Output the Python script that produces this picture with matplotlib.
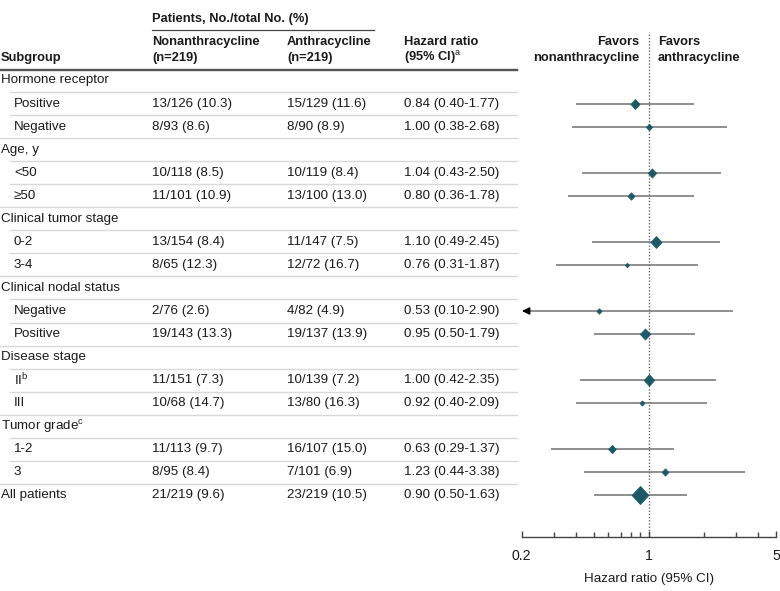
import numpy as np
import matplotlib
matplotlib.use('Agg')
import matplotlib.pyplot as plt
from matplotlib.path import Path
from matplotlib.ticker import FixedLocator, NullFormatter

plt.rcParams['font.family'] = ['Liberation Sans', 'DejaVu Sans']
plt.rcParams['mathtext.fontset'] = 'custom'
plt.rcParams['mathtext.rm'] = 'Liberation Sans'
plt.rcParams['mathtext.bf'] = 'Liberation Sans:bold'

# ---- data ----
group_names = ['Hormone receptor', 'Age, y', 'Clinical tumor stage',
               'Clinical nodal status', 'Disease stage', r'Tumor grade$^{\mathrm{c}}$']
sub_labels = [['Positive', 'Negative'], ['<50', '\u226550'], ['0-2', '3-4'],
              ['Negative', 'Positive'], [r'II$^{\mathrm{b}}$', 'III'], ['1-2', '3']]
total_label = 'All patients'

non_events = [13, 8, 10, 11, 13, 8, 2, 19, 11, 10, 11, 8, 21]
non_total = [126, 93, 118, 101, 154, 65, 76, 143, 151, 68, 113, 95, 219]
non_pct = [10.3, 8.6, 8.5, 10.9, 8.4, 12.3, 2.6, 13.3, 7.3, 14.7, 9.7, 8.4, 9.6]
ant_events = [15, 8, 10, 13, 11, 12, 4, 19, 10, 13, 16, 7, 23]
ant_total = [129, 90, 119, 100, 147, 72, 82, 137, 139, 80, 107, 101, 219]
ant_pct = [11.6, 8.9, 8.4, 13.0, 7.5, 16.7, 4.9, 13.9, 7.2, 16.3, 15.0, 6.9, 10.5]
hr = [0.84, 1.00, 1.04, 0.80, 1.10, 0.76, 0.53, 0.95, 1.00, 0.92, 0.63, 1.23, 0.90]
lo = [0.40, 0.38, 0.43, 0.36, 0.49, 0.31, 0.10, 0.50, 0.42, 0.40, 0.29, 0.44, 0.50]
hi = [1.77, 2.68, 2.50, 1.78, 2.45, 1.87, 2.90, 1.79, 2.35, 2.09, 1.37, 3.38, 1.63]

xticks_major = [0.2, 1, 5]
xticks_minor = [0.3, 0.4, 0.5, 0.6, 0.7, 0.8, 0.9, 2, 3, 4]

# ---- layout (pixel units) ----
W, H = 780, 591
row0, dy = 80.5, 23.05
col_x = [1, 152, 287, 404]
indent = 13
table_right = 517
txt = '#1a1a1a'
teal = '#1d5a68'
fs = 9.6
fs_hdr = 9.3

fig = plt.figure(figsize=(W / 100, H / 100), dpi=100)
tab = fig.add_axes([0, 0, 1, 1])
tab.set_xlim(0, W)
tab.set_ylim(H, 0)
tab.axis('off')

# header
hdr = dict(fontsize=fs_hdr, color=txt, fontweight='bold', va='center')
tab.text(col_x[1], 19, 'Patients, No./total No. (%)', ha='left', **hdr)
tab.plot([col_x[1], 374], [29.5, 29.5], color='#444444', lw=0.9)
tab.text(col_x[0], 58, 'Subgroup', ha='left', **hdr)
tab.text(col_x[1], 42, 'Nonanthracycline', ha='left', **hdr)
tab.text(col_x[1], 58, '(n=219)', ha='left', **hdr)
tab.text(col_x[2], 42, 'Anthracycline', ha='left', **hdr)
tab.text(col_x[2], 58, '(n=219)', ha='left', **hdr)
tab.text(col_x[3], 42, 'Hazard ratio', ha='left', **hdr)
tab.text(col_x[3], 58, r'(95% CI)$^{\mathrm{a}}$', ha='left', **hdr)
tab.text(639, 42, 'Favors', ha='right', **hdr)
tab.text(639, 58, 'nonanthracycline', ha='right', **hdr)
tab.text(658, 42, 'Favors', ha='left', **hdr)
tab.text(658, 58, 'anthracycline', ha='left', **hdr)
tab.plot([0, table_right], [70, 70], color='#555555', lw=1.7)

body = dict(fontsize=fs, color=txt, va='center')
sep_color = '#d9d9d9'

row = 0
data_rows = []
for g, subs in zip(group_names, sub_labels):
    y = row0 + row * dy
    tab.text(col_x[0], y, g, ha='left', **body)
    tab.plot([indent - 3, table_right], [y + dy / 2] * 2, color=sep_color, lw=1)
    row += 1
    for j, s in enumerate(subs):
        y = row0 + row * dy
        tab.text(col_x[0] + indent, y, s, ha='left', **body)
        x0 = 0 if j == len(subs) - 1 else indent - 3
        tab.plot([x0, table_right], [y + dy / 2] * 2, color=sep_color, lw=1)
        data_rows.append(y)
        row += 1
y = row0 + row * dy
tab.text(col_x[0], y, total_label, ha='left', **body)
data_rows.append(y)

for i, y in enumerate(data_rows):
    tab.text(col_x[1], y, f'{non_events[i]}/{non_total[i]} ({non_pct[i]:.1f})', ha='left', **body)
    tab.text(col_x[2], y, f'{ant_events[i]}/{ant_total[i]} ({ant_pct[i]:.1f})', ha='left', **body)
    tab.text(col_x[3], y, f'{hr[i]:.2f} ({lo[i]:.2f}-{hi[i]:.2f})', ha='left', **body)

# ---- forest plot ----
ax_left, ax_right, ax_bot, ax_top = 521.5, 776, 536.5, 32
ax = fig.add_axes([ax_left / W, (H - ax_bot) / H,
                   (ax_right - ax_left) / W, (ax_bot - ax_top) / H])
ax.patch.set_alpha(0)
ax.set_xscale('log')
ax.set_xlim(xticks_major[0], xticks_major[-1])
ax.set_ylim(ax_bot, ax_top)

ax.axvline(1, color='#666666', lw=1, ls=(0, (1, 1.3)), zorder=1)

diamond = Path([(0, 1), (0.93, 0), (0, -1), (-0.93, 0), (0, 1)],
               [Path.MOVETO, Path.LINETO, Path.LINETO, Path.LINETO, Path.CLOSEPOLY])
n_all = np.array(non_total) + np.array(ant_total)
half_px = 2.1 + 0.021 * (n_all - 137)
msize = 1.07 * half_px / 0.694

xmin = xticks_major[0]
for i, y in enumerate(data_rows):
    left = max(lo[i], xmin * 1.03)
    ax.plot([left, hi[i]], [y, y], color='#727272', lw=1.1, zorder=2, solid_capstyle='butt')
    if lo[i] < xmin:
        ax.annotate('', xy=(xmin * 1.005, y), xytext=(xmin * 1.05, y),
                    arrowprops=dict(arrowstyle='-|>,head_length=0.45,head_width=0.22',
                                    color='black', lw=1, shrinkA=0, shrinkB=0),
                    zorder=3)
    ax.plot(hr[i], y, marker=diamond, markersize=msize[i], color=teal,
            markeredgewidth=0.6, markeredgecolor=teal, zorder=4)

for s in ['top', 'right', 'left']:
    ax.spines[s].set_visible(False)
ax.spines['bottom'].set_color('#444444')
ax.spines['bottom'].set_linewidth(1)
ax.set_yticks([])
ax.xaxis.set_major_locator(FixedLocator(xticks_major))
ax.xaxis.set_minor_locator(FixedLocator(xticks_minor))
ax.xaxis.set_minor_formatter(NullFormatter())
ax.set_xticklabels([f'{t:g}' for t in xticks_major])
ax.tick_params(axis='x', which='both', direction='in', color='#444444', width=1,
               labelsize=fs + 0.6, labelcolor=txt, pad=9)
ax.tick_params(axis='x', which='major', length=4)
ax.tick_params(axis='x', which='minor', length=3.5)
ax.set_xlabel('Hazard ratio (95% CI)', fontsize=fs, color=txt, labelpad=7)

fig.savefig('out.png', dpi=100)
